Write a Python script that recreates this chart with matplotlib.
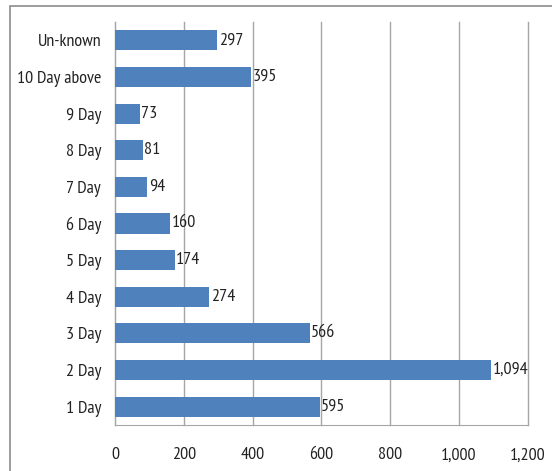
import matplotlib
matplotlib.use("Agg")
import matplotlib.pyplot as plt
from matplotlib.patches import Rectangle

categories = ["1 Day", "2 Day", "3 Day", "4 Day", "5 Day", "6 Day",
              "7 Day", "8 Day", "9 Day", "10 Day above", "Un-known"]
values = [595, 1094, 566, 274, 174, 160, 94, 81, 73, 395, 297]
xticks = [0, 200, 400, 600, 800, 1000, 1200]

plt.rcParams['font.family'] = ['PT Sans Narrow', 'DejaVu Sans']

fig = plt.figure(figsize=(5.52, 4.71), dpi=100)
ax = fig.add_axes([0.2083, 0.0977, 0.748, 0.8556])

# outer chart border (only top and left visible in the reference)
fig.patches.append(Rectangle((10 / 552, -0.1), 1.2, 1 - 6 / 471 + 0.1,
                             transform=fig.transFigure, fill=False,
                             edgecolor="#8c8c8c", linewidth=1.2))

y = range(len(categories))
ax.barh(y, values, height=0.55, color="#4F81BD", zorder=3)

for i, v in enumerate(values):
    ax.text(v + 4, i, "{:,}".format(v), va="center", ha="left",
            fontsize=13, color="#222222")

ax.set_xlim(0, 1200)
ax.set_ylim(-0.5, len(categories) - 0.5)
ax.set_xticks(xticks)
ax.set_xticklabels(["{:,}".format(t) for t in xticks], fontsize=13,
                   color="#222222")
ax.set_yticks(list(y))
ax.set_yticklabels(categories, fontsize=13, color="#222222")
ax.tick_params(length=0, pad=10)
ax.tick_params(axis="x", pad=16)

ax.grid(axis="x", color="#a6a6a6", linewidth=1, zorder=0)
for line in ax.get_xgridlines():
    line.set_clip_on(False)
for s in ["top", "right"]:
    ax.spines[s].set_visible(False)
ax.spines["left"].set_color("#a6a6a6")
ax.spines["bottom"].set_color("#a6a6a6")

fig.savefig("out.png", dpi=100)
